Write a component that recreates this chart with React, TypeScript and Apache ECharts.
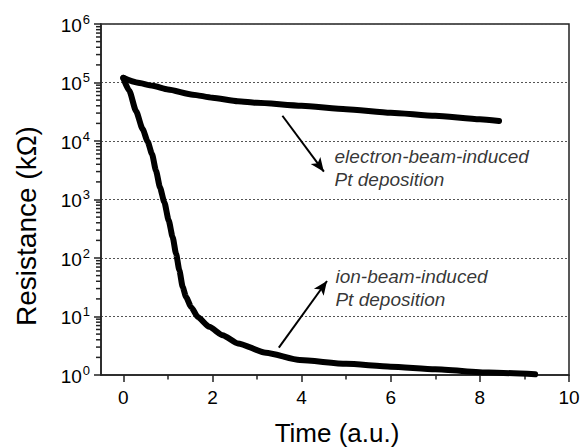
import { useEffect, useRef } from 'react';
import * as echarts from 'echarts';

const xMin = -0.5;
const xMax = 10;
const xMajorTicks = [0, 2, 4, 6, 8, 10];
const xMinorTicks = [1, 3, 5, 7, 9];
const yDecades = [1, 10, 100, 1000, 10000, 100000, 1000000];
const yMinorMultipliers = [2, 3, 4, 5, 6, 7, 8, 9];

const electronTime = [0, 0.3, 0.66, 1, 1.56, 2, 2.57, 3, 4, 5, 6, 7, 8, 8.43];
const electronR = [1.2e5, 1.0e5, 8.8e4, 7.6e4, 6.2e4, 5.5e4, 4.8e4, 4.5e4, 4.0e4, 3.5e4, 3.05e4, 2.7e4, 2.35e4, 2.2e4];

const ionTime = [0, 0.135, 0.285, 0.434, 0.546, 0.644, 0.734, 0.824, 0.921, 1.018, 1.108, 1.184, 1.258, 1.333, 1.408, 1.52, 1.67, 1.93, 2.23, 2.57, 3.2, 3.96, 5, 6, 7, 8.2, 9.24];
const ionR = [1.2e5, 7.2e4, 3.27e4, 1.6e4, 9.8e3, 6.0e3, 3.1e3, 1.6e3, 900, 440, 227, 118, 61.5, 31.9, 21.6, 14.6, 9.8, 6.65, 4.8, 3.47, 2.4, 1.8, 1.55, 1.39, 1.25, 1.1, 1.03];

const annotationTexts = ['electron-beam-induced\nPt deposition', 'ion-beam-induced\nPt deposition'];
const annotationX = [4.74, 4.76];
const annotationY = [3430, 31.2];

const arrowFrom = [[3.57, 2.7e4], [3.49, 2.93]];
const arrowTo = [[4.5, 2985], [4.57, 40.5]];

const xTitle = 'Time (a.u.)';
const yTitle = 'Resistance (kΩ)';

const FONT = 'Liberation Sans, Arial, Helvetica, sans-serif';

export default function App() {
  const ref = useRef<HTMLDivElement>(null);
  useEffect(() => {
    if (!ref.current) return;
    const chart = echarts.init(ref.current, null, { renderer: 'svg' });
    const yMinor: number[] = [];
    yDecades.slice(0, -1).forEach((d) => yMinorMultipliers.forEach((m) => yMinor.push(d * m)));

    const zip = (a: number[], b: number[]) => a.map((v, i) => [v, b[i]]);

    chart.setOption({
      animation: false,
      textStyle: { fontFamily: FONT },
      grid: {
        left: 101, right: 15, top: 24, bottom: 73,
        show: true, borderColor: '#222', borderWidth: 1.5, backgroundColor: 'transparent',
      },
      xAxis: [
        {
          type: 'value', min: xMin, max: xMax, position: 'bottom',
          axisLine: { show: true, onZero: false, lineStyle: { color: '#222', width: 1.5 } },
          axisTick: { show: true, customValues: xMajorTicks, length: 7, lineStyle: { color: '#222', width: 1.5 } },
          axisLabel: { customValues: xMajorTicks, fontSize: 19, color: '#000', margin: 13, fontFamily: FONT },
          splitLine: { show: false },
        },
        {
          type: 'value', min: xMin, max: xMax, position: 'bottom', offset: 0,
          axisLine: { show: false, onZero: false },
          axisTick: { show: true, customValues: xMinorTicks, length: 4.5, lineStyle: { color: '#222', width: 1.5 } },
          axisLabel: { show: false },
          splitLine: { show: false },
        },
      ],
      yAxis: [
        {
          type: 'log', logBase: 10, min: 1, max: 1e6, interval: 1, position: 'left',
          axisLine: { show: true, onZero: false, lineStyle: { color: '#222', width: 1.5 } },
          axisTick: { show: true, length: 7, lineStyle: { color: '#222', width: 1.5 } },
          axisLabel: {
            margin: 11,
            color: '#000',
            padding: [0, 0, 3, 0],
            formatter: (v: number) => `{b|10}{s|${Math.round(Math.log10(v))}}`,
            rich: {
              b: { fontSize: 19, lineHeight: 20, padding: [5, 0, 0, 0], fontFamily: FONT, color: '#000' },
              s: { fontSize: 13, lineHeight: 13, verticalAlign: 'top', padding: [0, 0, 0, 1], fontFamily: FONT, color: '#000' },
            },
          },
          splitLine: { show: true, lineStyle: { color: '#555', width: 1, type: [2, 2] } },
        },
      ],
      graphic: [
        {
          type: 'text', x: 337, y: 432.5,
          style: { text: xTitle, font: `26px ${FONT}`, fill: '#000', textAlign: 'center', textVerticalAlign: 'middle' },
        },
        {
          type: 'text', x: 26, y: 226, rotation: Math.PI / 2,
          style: { text: yTitle, font: `28px ${FONT}`, fill: '#000', textAlign: 'center', textVerticalAlign: 'middle' },
        },
      ],
      series: [
        {
          type: 'line', name: 'electron', data: zip(electronTime, electronR), showSymbol: false, symbol: 'none',
          smooth: 0.2, smoothMonotone: 'x',
          lineStyle: { color: '#000', width: 6, join: 'round', cap: 'round' }, z: 3,
          markLine: {
            silent: true, symbol: ['none', 'arrow'], symbolSize: [9, 14], label: { show: false },
            lineStyle: { color: '#000', width: 2, type: 'solid' },
            data: [[{ coord: arrowFrom[0] }, { coord: arrowTo[0] }]],
          },
        },
        {
          type: 'line', name: 'ion', data: zip(ionTime, ionR), showSymbol: false, symbol: 'none',
          smooth: 0.2, smoothMonotone: 'x',
          lineStyle: { color: '#000', width: 6, join: 'round', cap: 'round' }, z: 3,
          markLine: {
            silent: true, symbol: ['none', 'arrow'], symbolSize: [9, 14], label: { show: false },
            lineStyle: { color: '#000', width: 2, type: 'solid' },
            data: [[{ coord: arrowFrom[1] }, { coord: arrowTo[1] }]],
          },
        },
        {
          type: 'scatter', symbolSize: 0, silent: true,
          data: annotationTexts.map((t, i) => ({ value: [annotationX[i], annotationY[i]], text: t })),
          label: {
            show: true, position: 'right', distance: 0,
            formatter: (p: any) => p.data.text,
            fontSize: 19, fontStyle: 'italic', lineHeight: 23, color: '#000', fontFamily: FONT, align: 'left',
          },
        },
        {
          type: 'custom', name: 'yMinorTicks', silent: true, clip: false, z: 5,
          data: yMinor.map((v) => [xMin, v]),
          encode: { x: 0, y: 1 },
          renderItem: (_params: any, api: any) => {
            const p = api.coord([api.value(0), api.value(1)]);
            return {
              type: 'line',
              shape: { x1: p[0] - 5, y1: p[1], x2: p[0], y2: p[1] },
              style: { stroke: '#222', lineWidth: 1.5 },
            };
          },
        },
      ],
    });
    return () => chart.dispose();
  }, []);
  return <div ref={ref} style={{ width: 584, height: 448, position: 'absolute', left: 0, top: 0 }} />;
}
